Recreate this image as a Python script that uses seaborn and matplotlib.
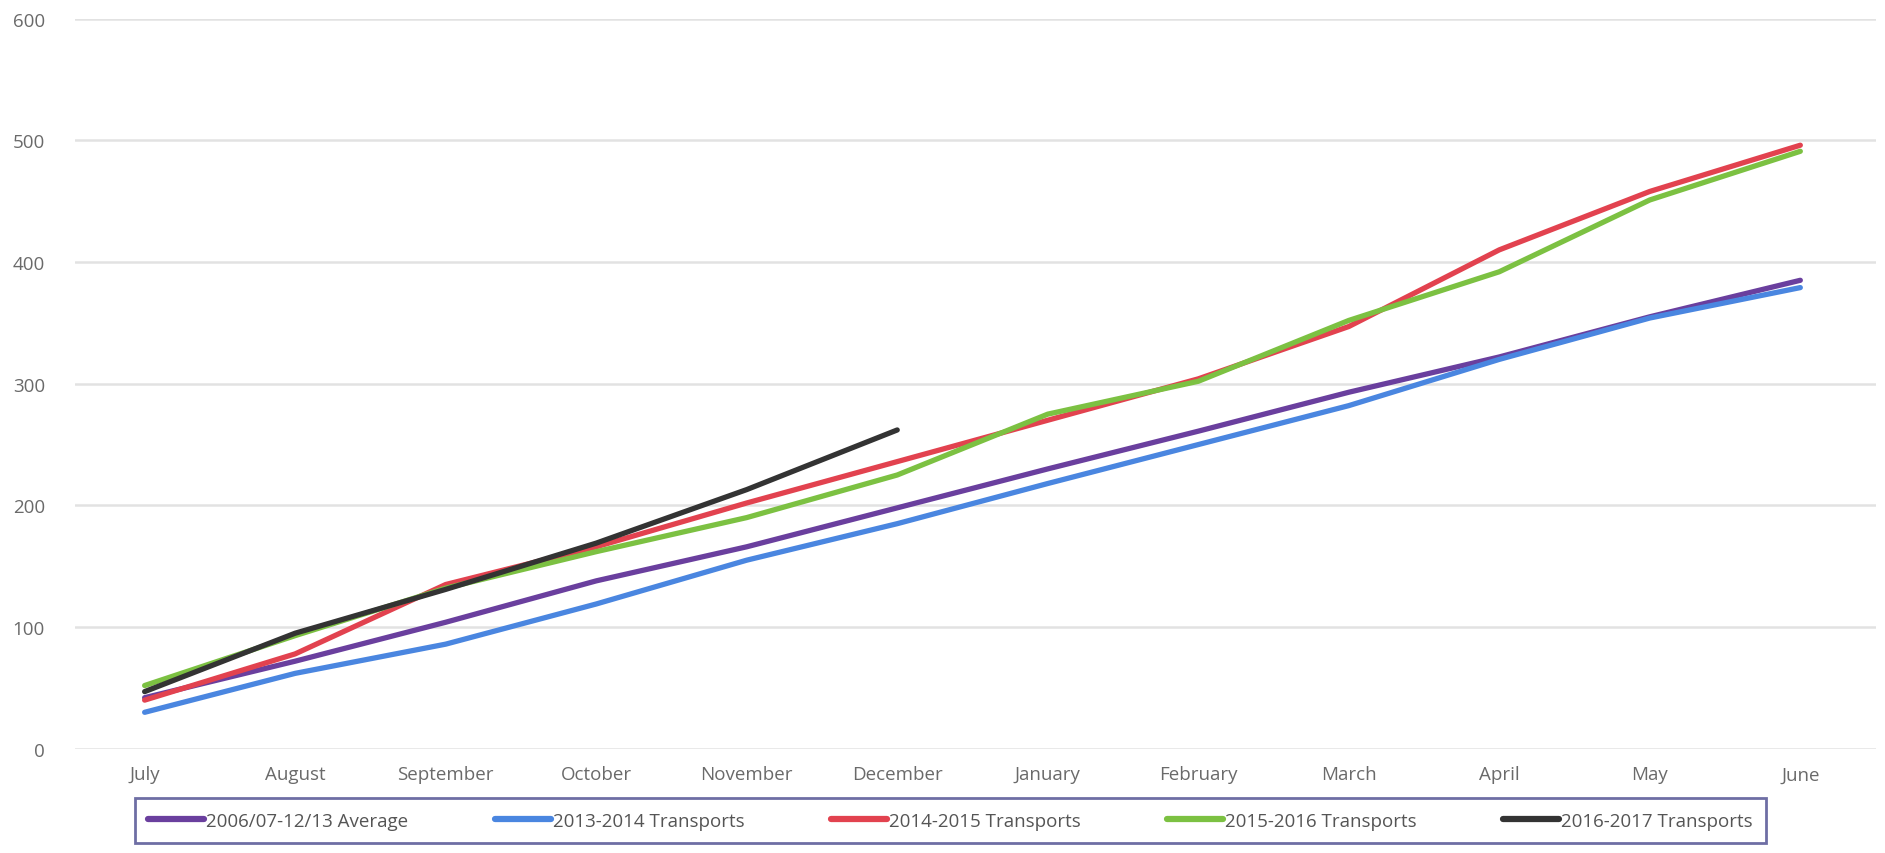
import pandas as pd
import matplotlib.pyplot as plt
import seaborn as sns

# Define data
MONTHS = ["July", "August", "September", "October", "November", "December",
          "January", "February", "March", "April", "May", "June"]
SERIES_NAMES = ["2006/07-12/13 Average", "2013-2014 Transports", "2014-2015 Transports",
                "2015-2016 Transports", "2016-2017 Transports"]
AVERAGE = [42, 72, 104, 138, 166, 198, 230, 261, 293, 322, 355, 385]
T_2013_2014 = [30, 62, 86, 119, 155, 185, 218, 250, 282, 320, 354, 379]
T_2014_2015 = [40, 78, 135, 166, 202, 236, 270, 304, 347, 410, 458, 496]
T_2015_2016 = [52, 93, 132, 162, 190, 225, 275, 302, 352, 392, 451, 491]
T_2016_2017 = [47, 95, 131, 169, 213, 262]
COLORS = ["#6a3f9e", "#4a86e0", "#e2424f", "#7cc142", "#333333"]


def build_frame():
    rows = []
    for name, values in zip(SERIES_NAMES, [AVERAGE, T_2013_2014, T_2014_2015, T_2015_2016, T_2016_2017]):
        for i, v in enumerate(values):
            rows.append({"month": i, "value": v, "series": name})
    return pd.DataFrame(rows)


def plot_chart(df):
    sns.set_style("white")
    plt.rcParams["font.family"] = ["Open Sans", "DejaVu Sans"]

    fig, ax = plt.subplots(figsize=(18.85, 8.54), dpi=100)
    fig.subplots_adjust(left=0.04, right=0.995, top=0.977, bottom=0.122)

    sns.lineplot(data=df, x="month", y="value", hue="series", hue_order=SERIES_NAMES,
                 palette=COLORS, linewidth=3.8, sort=False, ax=ax)

    ax.set_xlim(-0.46, 11.5)
    ax.set_ylim(0, 600)
    ax.set_yticks(range(0, 601, 100))
    ax.set_xticks(range(len(MONTHS)))
    ax.set_xticklabels(MONTHS)
    ax.set(xlabel="", ylabel="")
    ax.grid(axis="y", color="#e2e2e2", linewidth=1.8)
    ax.set_axisbelow(True)
    for spine in ax.spines.values():
        spine.set_visible(False)
    ax.tick_params(axis="both", length=0, labelsize=13.5, labelcolor="#6a6a6a")
    ax.tick_params(axis="x", pad=12)
    ax.tick_params(axis="y", pad=22)

    # legend boxed below the axis, all series in one row
    leg = ax.legend(loc="upper center", bbox_to_anchor=(0.486, -0.068), ncol=5,
                    frameon=True, fancybox=False, fontsize=13.5, handlelength=3.0,
                    handletextpad=0.1, columnspacing=4.6, borderpad=0.7, borderaxespad=0)
    leg.get_frame().set_edgecolor("#4a4a8e")
    leg.get_frame().set_linewidth(2)
    for line in leg.get_lines():
        line.set_linewidth(4.5)
    for text in leg.get_texts():
        text.set_color("#555555")

    plt.savefig("out.png", dpi=100)


if __name__ == "__main__":
    plot_chart(build_frame())
